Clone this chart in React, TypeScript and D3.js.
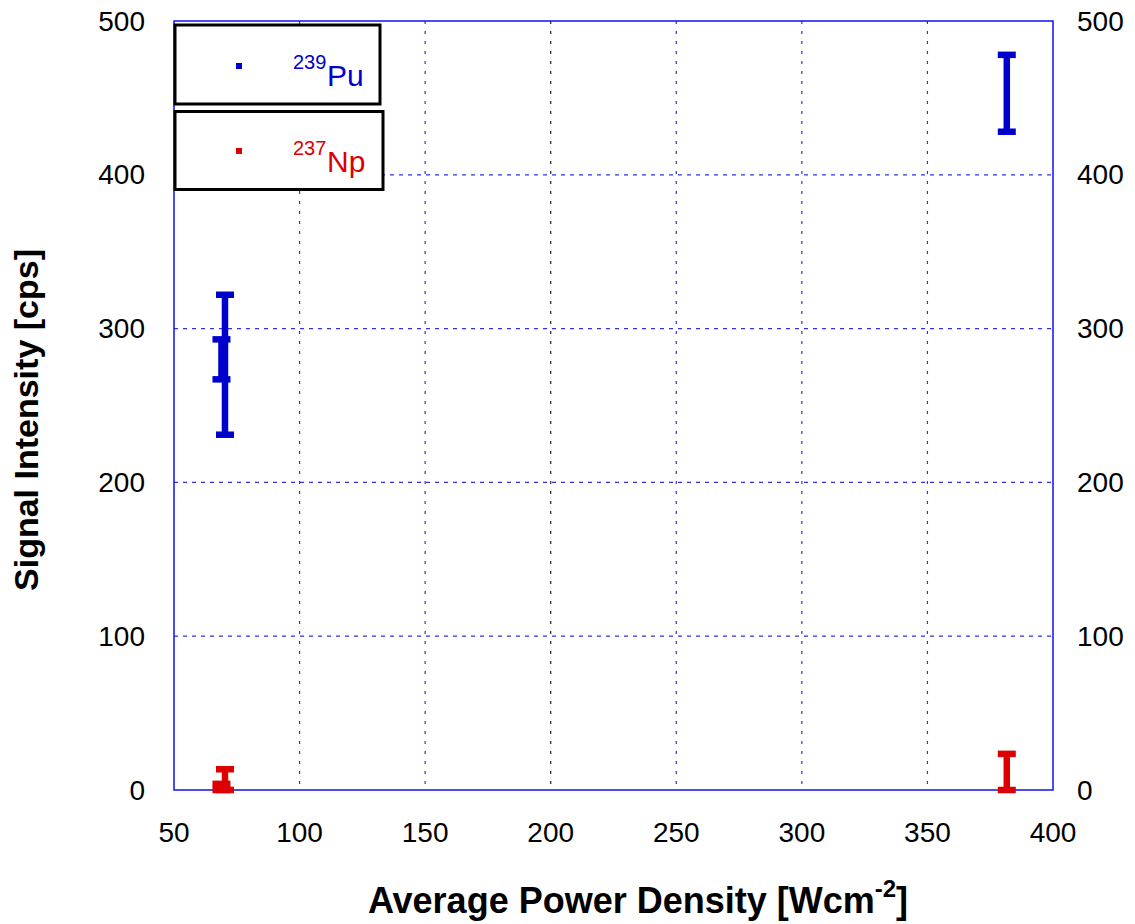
import React from "react";
import * as d3 from "d3";

// Axis ticks
const xTicks = [50, 100, 150, 200, 250, 300, 350, 400];
const yTicks = [0, 100, 200, 300, 400, 500];

// 239Pu signal: power density and error-bar limits (cps)
const puX = [70.3, 68.9, 381.6];
const puLow = [231, 267, 428];
const puHigh = [322, 293, 478];

// 237Np signal
const npX = [70.3, 68.9, 381.6];
const npLow = [0, 0, 0];
const npHigh = [13.5, 4, 23.5];

const W = 1135;
const H = 924;
const left = 174;
const right = 1053;
const top = 21;
const bottom = 790;

const BLUE = "#0000cc";
const RED = "#dd0000";
const FRAME = "#1010f0";
const GRID = "#3030e0";
const FONT = "'Liberation Sans', Arial, sans-serif";

export default function App() {
  const x = d3.scaleLinear().domain([50, 400]).range([left, right]);
  const y = d3.scaleLinear().domain([0, 500]).range([bottom, top]);

  const errorBars = (xs: number[], lo: number[], hi: number[], color: string, key: string) =>
    xs.map((xv, i) => {
      const cx = x(xv);
      const y0 = y(lo[i]);
      const y1 = y(hi[i]);
      const half = 9;
      return (
        <g key={`${key}-${i}`} stroke={color} strokeWidth={6.5} strokeLinecap="butt">
          <line x1={cx} x2={cx} y1={y0} y2={y1} />
          <line x1={cx - half} x2={cx + half} y1={y0} y2={y0} />
          <line x1={cx - half} x2={cx + half} y1={y1} y2={y1} />
        </g>
      );
    });

  return (
    <svg
      width={W}
      height={H}
      style={{ position: "absolute", left: 0, top: 0, background: "#fff" }}
      fontFamily={FONT}
    >
      {/* grid */}
      {yTicks
        .filter((t) => t > 0 && t < 500)
        .map((t) => (
          <line
            key={`gy${t}`}
            x1={left}
            x2={right}
            y1={y(t)}
            y2={y(t)}
            stroke={GRID}
            strokeWidth={1.2}
            strokeDasharray="4,5"
          />
        ))}
      {xTicks
        .filter((t) => t > 50 && t < 400)
        .map((t) => (
          <line
            key={`gx${t}`}
            x1={x(t)}
            x2={x(t)}
            y1={top}
            y2={bottom}
            stroke={t === 200 ? "#222" : GRID}
            strokeWidth={1.2}
            strokeDasharray="3,7"
          />
        ))}

      {/* frame */}
      <rect
        x={left}
        y={top}
        width={right - left}
        height={bottom - top}
        fill="none"
        stroke={FRAME}
        strokeWidth={1.5}
      />

      {/* tick labels */}
      {yTicks.map((t) => (
        <g key={`yl${t}`} fontSize={28} fill="#000">
          <text x={145} y={y(t)} textAnchor="end" dominantBaseline="central">
            {t}
          </text>
          <text x={1077} y={y(t)} textAnchor="start" dominantBaseline="central">
            {t}
          </text>
        </g>
      ))}
      {xTicks.map((t) => (
        <text key={`xl${t}`} x={x(t)} y={842} textAnchor="middle" fontSize={28} fill="#000">
          {t}
        </text>
      ))}

      {/* axis titles */}
      <text
        transform={`translate(38, 420) rotate(-90)`}
        textAnchor="middle"
        fontSize={34}
        fontWeight="bold"
        fill="#000"
      >
        Signal Intensity [cps]
      </text>
      <text x={638} y={913} textAnchor="middle" fontSize={36} fontWeight="bold" fill="#000">
        <tspan>Average Power Density [Wcm</tspan>
        <tspan fontSize={24} dy={-16}>-2</tspan>
        <tspan dy={16}>]</tspan>
      </text>

      {/* error bars */}
      {errorBars(puX, puLow, puHigh, BLUE, "pu")}
      {errorBars(npX, npLow, npHigh, RED, "np")}

      {/* legend */}
      <g>
        <rect x={175} y={25} width={205} height={79} fill="#fff" stroke="#000" strokeWidth={3} />
        <rect x={236} y={63} width={6} height={6} fill={BLUE} />
        <text x={293} y={69} fontSize={20} fill={BLUE}>239</text>
        <text x={327} y={86} fontSize={30} fill={BLUE}>Pu</text>

        <rect x={175} y={111.5} width={208} height={78} fill="#fff" stroke="#000" strokeWidth={3} />
        <rect x={236} y={148} width={6} height={6} fill={RED} />
        <text x={293} y={155} fontSize={20} fill={RED}>237</text>
        <text x={327} y={172} fontSize={30} fill={RED}>Np</text>
      </g>
    </svg>
  );
}
